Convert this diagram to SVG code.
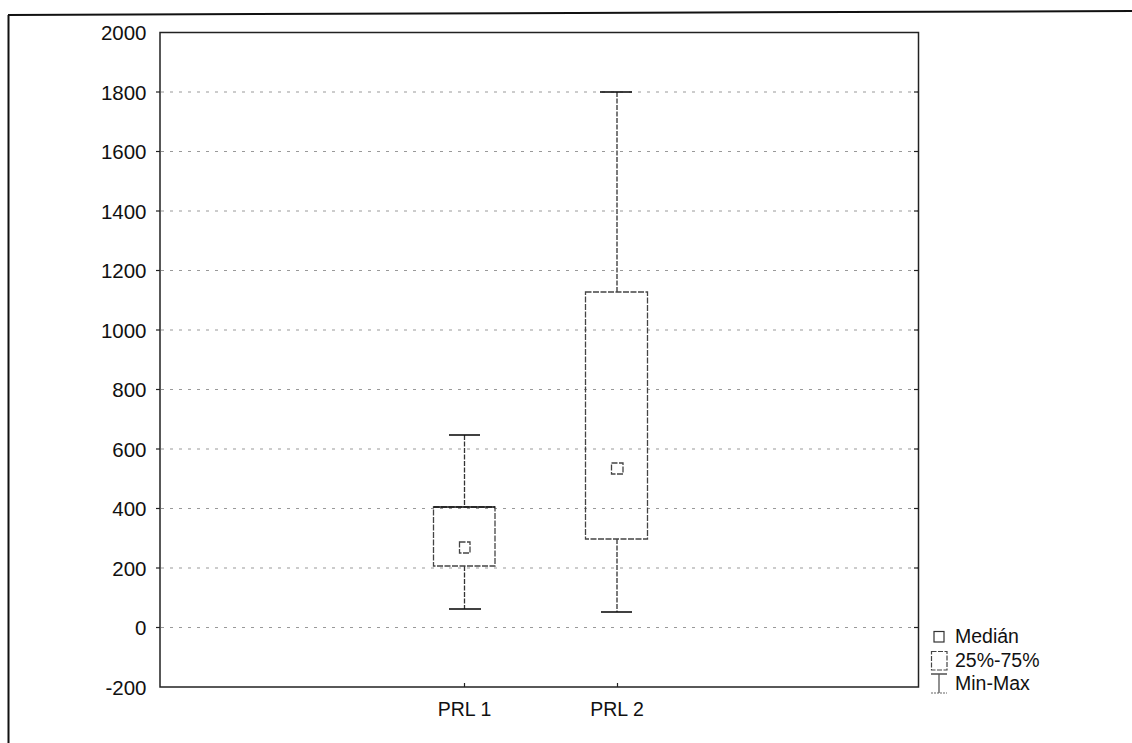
<svg xmlns="http://www.w3.org/2000/svg" width="1132" height="743" viewBox="0 0 1132 743">
<style>
.lbl{font-family:"Liberation Sans",Arial,sans-serif;font-size:19.5px;fill:#111}
.ylbl{font-size:20.5px}
.grid{stroke:#999;stroke-width:1;stroke-dasharray:3 6;fill:none}
.frame{stroke:#222;stroke-width:1.5;fill:none}
.box{stroke:#444;stroke-width:1.3;fill:none;stroke-dasharray:6 1.5}
.whisk{stroke:#333;stroke-width:1.3;stroke-dasharray:5 1.5}
.cap{stroke:#111;stroke-width:1.6}
.tick{stroke:#222;stroke-width:1.2}
</style>
<rect width="1132" height="743" fill="#fff"/>
<g id="outer">
<line x1="8" y1="15" x2="1132" y2="11" stroke="#111" stroke-width="2"/>
<line x1="8.5" y1="15" x2="8.5" y2="743" stroke="#111" stroke-width="2"/>
</g>
<g id="grid">
<line class="grid" x1="161" y1="92" x2="918" y2="92"/>
<line class="grid" x1="161" y1="151.5" x2="918" y2="151.5"/>
<line class="grid" x1="161" y1="211" x2="918" y2="211"/>
<line class="grid" x1="161" y1="270.5" x2="918" y2="270.5"/>
<line class="grid" x1="161" y1="330" x2="918" y2="330"/>
<line class="grid" x1="161" y1="389.5" x2="918" y2="389.5"/>
<line class="grid" x1="161" y1="449" x2="918" y2="449"/>
<line class="grid" x1="161" y1="508.5" x2="918" y2="508.5"/>
<line class="grid" x1="161" y1="568" x2="918" y2="568"/>
<line class="grid" x1="161" y1="627.5" x2="918" y2="627.5"/>
</g>
<g id="plotframe">
<rect class="frame" x="160" y="32.5" width="758.5" height="654.5"/>
<g class="tick">
<line x1="156" y1="92" x2="160" y2="92"/>
<line x1="156" y1="151.5" x2="160" y2="151.5"/>
<line x1="156" y1="211" x2="160" y2="211"/>
<line x1="156" y1="270.5" x2="160" y2="270.5"/>
<line x1="156" y1="330" x2="160" y2="330"/>
<line x1="156" y1="389.5" x2="160" y2="389.5"/>
<line x1="156" y1="449" x2="160" y2="449"/>
<line x1="156" y1="508.5" x2="160" y2="508.5"/>
<line x1="156" y1="568" x2="160" y2="568"/>
<line x1="156" y1="627.5" x2="160" y2="627.5"/>
<line x1="914" y1="92" x2="918" y2="92"/>
<line x1="914" y1="151.5" x2="918" y2="151.5"/>
<line x1="914" y1="211" x2="918" y2="211"/>
<line x1="914" y1="270.5" x2="918" y2="270.5"/>
<line x1="914" y1="330" x2="918" y2="330"/>
<line x1="914" y1="389.5" x2="918" y2="389.5"/>
<line x1="914" y1="449" x2="918" y2="449"/>
<line x1="914" y1="508.5" x2="918" y2="508.5"/>
<line x1="914" y1="568" x2="918" y2="568"/>
<line x1="914" y1="627.5" x2="918" y2="627.5"/>
<line x1="464.5" y1="683" x2="464.5" y2="687"/>
<line x1="617.5" y1="683" x2="617.5" y2="687"/>
</g>
</g>
<g id="yaxis-labels" class="lbl ylbl" text-anchor="end">
<text x="146.5" y="40">2000</text>
<text x="146.5" y="99.5">1800</text>
<text x="146.5" y="159">1600</text>
<text x="146.5" y="218.5">1400</text>
<text x="146.5" y="278">1200</text>
<text x="146.5" y="337.5">1000</text>
<text x="146.5" y="397">800</text>
<text x="146.5" y="456.5">600</text>
<text x="146.5" y="516">400</text>
<text x="146.5" y="575.5">200</text>
<text x="146.5" y="635">0</text>
<text x="146.5" y="694.5">-200</text>
</g>
<g id="xaxis-labels" class="lbl" text-anchor="middle">
<text x="464.5" y="716">PRL 1</text>
<text x="617" y="716">PRL 2</text>
</g>
<g id="connectors">
<line class="whisk" x1="464.5" y1="435" x2="464.5" y2="507"/>
<line class="whisk" x1="464.5" y1="566" x2="464.5" y2="609"/>
<line class="whisk" x1="617" y1="92" x2="617" y2="292"/>
<line class="whisk" x1="617" y1="539" x2="617" y2="612"/>
</g>
<g id="prl1">
<rect class="box" x="433.5" y="507" width="61.5" height="59"/>
<line x1="433.5" y1="507" x2="495" y2="507" class="cap"/>
<rect class="box" x="459.5" y="542" width="10.5" height="11" stroke-dasharray="none"/>
<line class="cap" x1="449" y1="435" x2="480" y2="435"/>
<line class="cap" x1="449" y1="609" x2="481" y2="609"/>
</g>
<g id="prl2">
<rect class="box" x="585.5" y="292" width="62" height="247"/>
<rect class="box" x="611.5" y="463" width="11.5" height="11" stroke-dasharray="none"/>
<line class="cap" x1="600" y1="92" x2="632" y2="92"/>
<line class="cap" x1="601" y1="612" x2="632" y2="612"/>
</g>
<g id="legend">
<rect x="934" y="631.5" width="10" height="10.5" fill="none" stroke="#333" stroke-width="1.2"/>
<text class="lbl" x="955" y="643">Medián</text>
<rect x="931.5" y="651.5" width="15.5" height="18.5" fill="none" stroke="#444" stroke-width="1.2" stroke-dasharray="5 1.5"/>
<text class="lbl" x="955" y="667">25%-75%</text>
<line x1="931" y1="674" x2="947" y2="674" stroke="#333" stroke-width="1.3"/>
<line x1="939" y1="674" x2="939" y2="693" stroke="#555" stroke-width="1.3"/>
<line x1="931" y1="693" x2="947" y2="693" stroke="#666" stroke-width="1.2" stroke-dasharray="2 1"/>
<text class="lbl" x="955" y="690">Min-Max</text>
</g>
</svg>
